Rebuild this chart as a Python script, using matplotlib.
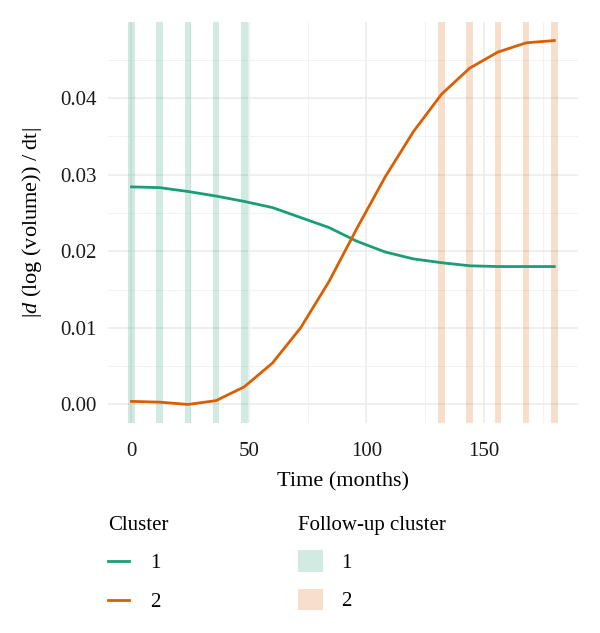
import numpy as np
import matplotlib
matplotlib.use('Agg')
import matplotlib.pyplot as plt
import matplotlib.patches as patches
from matplotlib.lines import Line2D
from matplotlib.ticker import MultipleLocator

plt.rcParams['font.family'] = ['Liberation Serif', 'DejaVu Serif']
plt.rcParams['mathtext.fontset'] = 'custom'
plt.rcParams['mathtext.rm'] = 'Liberation Serif'
plt.rcParams['mathtext.it'] = 'Liberation Serif:italic'

months = [0, 12, 24, 36, 48, 60, 72, 84, 96, 108, 120, 132, 144, 156, 168, 180]
cluster1 = [0.0284, 0.0283, 0.0278, 0.0272, 0.0265, 0.0257, 0.0244, 0.0231,
            0.0213, 0.0199, 0.0190, 0.0185, 0.0181, 0.0180, 0.0180, 0.0180]
cluster2 = [0.0004, 0.0003, 0.0000, 0.0005, 0.0023, 0.0054, 0.0100, 0.0160,
            0.0230, 0.0297, 0.0356, 0.0405, 0.0439, 0.0460, 0.0472, 0.0475]
followup1 = [0, 12, 24, 36, 48]
followup2 = [132, 144, 156, 168, 180]

green = '#1b9e77'
orange = '#d95f02'
grid_col = '#ebebeb'

fig = plt.figure(figsize=(6, 6.33), dpi=100)
ax = fig.add_axes([0.18, 0.332, 0.783, 0.633])

for t in followup1:
    ax.axvspan(t - 1.4, t + 1.4, color=green, alpha=0.2, lw=0, zorder=1)
for t in followup2:
    ax.axvspan(t - 1.4, t + 1.4, color=orange, alpha=0.2, lw=0, zorder=1)

ax.plot(months, cluster1, color=green, lw=2, zorder=3)
ax.plot(months, cluster2, color=orange, lw=2, zorder=3)

ax.set_xlim(-10, 190)
ax.set_ylim(-0.0024, 0.0499)
ax.xaxis.set_major_locator(MultipleLocator(50))
ax.xaxis.set_minor_locator(MultipleLocator(25))
ax.yaxis.set_major_locator(MultipleLocator(0.01))
ax.yaxis.set_minor_locator(MultipleLocator(0.005))
ax.yaxis.set_major_formatter(matplotlib.ticker.FormatStrFormatter('%.2f'))
ax.grid(which='major', color=grid_col, lw=1.1, zorder=0)
ax.grid(which='minor', color='#f2f2f2', lw=0.7, zorder=0)
ax.set_axisbelow(True)
for s in ax.spines.values():
    s.set_visible(False)
ax.tick_params(which='both', length=0, labelsize=15, colors='#1a1a1a')
ax.tick_params(axis='x', pad=14)
ax.tick_params(axis='y', pad=8)

ax.set_xlabel('Time (months)', fontsize=16, labelpad=8)
ax.set_ylabel(r'|$d$ (log (volume)) / dt|', fontsize=16, labelpad=12)

line_handles = [Line2D([], [], color=green, lw=2), Line2D([], [], color=orange, lw=2)]
fig.legend(line_handles, ['1', '2'], title='Cluster', loc='upper left',
           bbox_to_anchor=(0.149, 0.215), frameon=False, fontsize=15,
           title_fontsize=15, alignment='left', handlelength=1.0,
           labelspacing=0.92, handletextpad=1.0)

patch_handles = [patches.Patch(facecolor=green, alpha=0.2, lw=0),
                 patches.Patch(facecolor=orange, alpha=0.2, lw=0)]
fig.legend(patch_handles, ['1', '2'], title='Follow-up cluster', loc='upper left',
           bbox_to_anchor=(0.465, 0.215), frameon=False, fontsize=15,
           title_fontsize=15, alignment='left', handlelength=1.2,
           handleheight=1.2, labelspacing=0.75, handletextpad=0.9)

plt.savefig('out.png', dpi=100)
plt.close()
